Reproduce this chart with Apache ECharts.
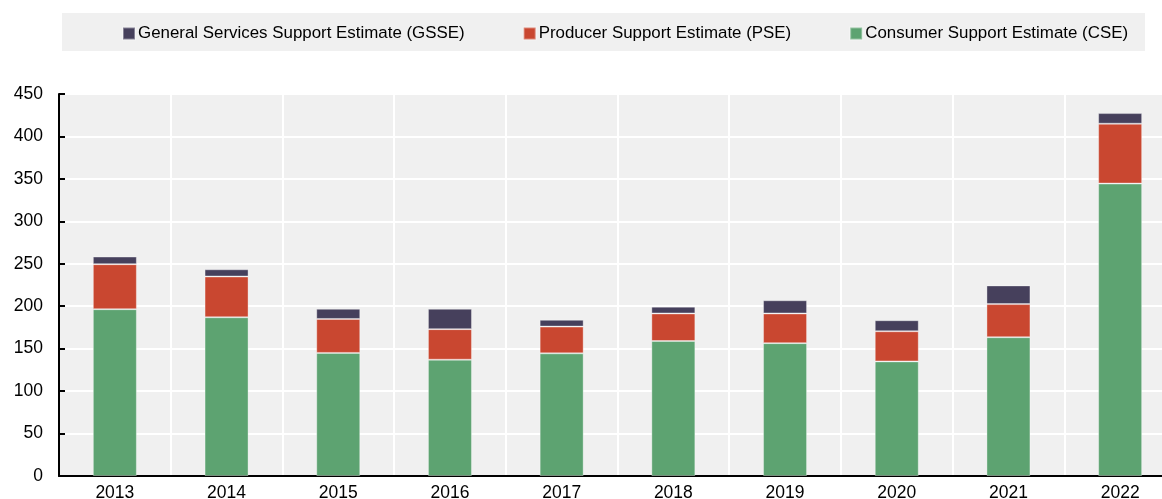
<!DOCTYPE html>
<html>
<head>
<meta charset="utf-8">
<script src="https://cdn.jsdelivr.net/npm/echarts@6/dist/echarts.min.js"></script>
<style>
  html, body { margin: 0; padding: 0; background: #fff; }
  #chart { width: 1162px; height: 499px; }
</style>
</head>
<body>
<div id="chart"></div>
<script>
const years = ['2013', '2014', '2015', '2016', '2017', '2018', '2019', '2020', '2021', '2022']
const cse = [196.5, 187, 145, 137, 144.5, 159, 156.5, 135, 163.5, 344.5]
const pse = [53, 48, 40, 36, 31.5, 32.5, 35, 35.5, 39, 70.5]
const gsse = [9, 8.5, 12, 24, 8, 8, 15.5, 13, 22, 12.5]
const yTicks = { min: 0, max: 450, step: 50 }

const font = 'Liberation Sans, Arial, sans-serif'
const chart = echarts.init(document.getElementById('chart'))

const barStyle = color => ({
  color,
  borderColor: 'rgba(255,255,255,0.35)',
  borderWidth: 1
})

chart.setOption({
  animation: false,
  textStyle: { fontFamily: font },
  graphic: [
    {
      type: 'rect',
      shape: { x: 62, y: 13, width: 1083, height: 38 },
      style: { fill: '#f0f0f0' },
      z: -1
    }
  ],
  legend: {
    left: 122,
    top: 25,
    padding: 0,
    itemWidth: 12,
    itemHeight: 12,
    itemGap: 58,
    icon: 'rect',
    textStyle: { fontSize: 16.9, color: '#000', fontFamily: font, padding: [0, 0, 0, -2] },
    data: [
      'General Services Support Estimate (GSSE)',
      'Producer Support Estimate (PSE)',
      'Consumer Support Estimate (CSE)'
    ]
  },
  grid: {
    left: 59,
    top: 94,
    width: 1117,
    height: 382,
    outerBoundsMode: 'none',
    show: true,
    backgroundColor: '#f0f0f0',
    borderWidth: 0
  },
  xAxis: {
    type: 'category',
    data: years,
    axisLine: { lineStyle: { color: '#000', width: 2 } },
    axisTick: { inside: true, length: 5, lineStyle: { color: '#000', width: 2 } },
    axisLabel: { fontSize: 17.5, color: '#000', margin: 8 },
    splitLine: { show: true, lineStyle: { color: '#fff', width: 2 } }
  },
  yAxis: {
    type: 'value',
    min: yTicks.min,
    max: yTicks.max,
    interval: yTicks.step,
    axisLine: { show: true, lineStyle: { color: '#000', width: 2 } },
    axisTick: { show: true, inside: true, length: 6, lineStyle: { color: '#000', width: 2 } },
    axisLabel: { fontSize: 17.5, color: '#000', margin: 16 },
    splitLine: { show: true, lineStyle: { color: '#fff', width: 2 } }
  },
  series: [
    {
      name: 'Consumer Support Estimate (CSE)',
      type: 'bar',
      stack: 'total',
      barWidth: 44,
      data: cse,
      itemStyle: barStyle('#5da371')
    },
    {
      name: 'Producer Support Estimate (PSE)',
      type: 'bar',
      stack: 'total',
      barWidth: 44,
      data: pse,
      itemStyle: barStyle('#c94730')
    },
    {
      name: 'General Services Support Estimate (GSSE)',
      type: 'bar',
      stack: 'total',
      barWidth: 44,
      data: gsse,
      itemStyle: barStyle('#46405c')
    }
  ]
})
</script>
</body>
</html>
